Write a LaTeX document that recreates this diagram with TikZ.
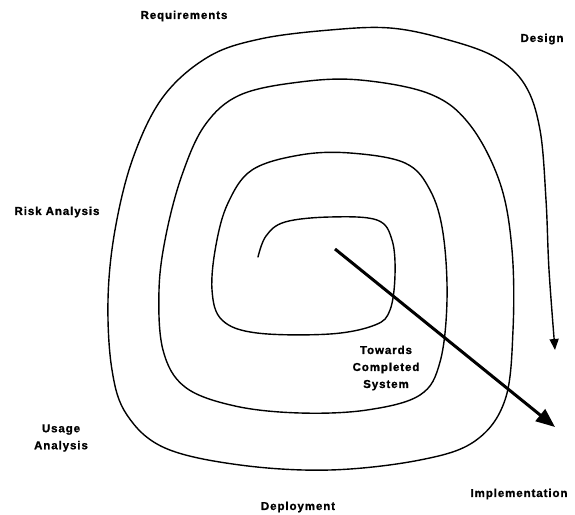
\documentclass[tikz,border=0pt]{standalone}
\usepackage{fontspec}
\setmainfont{Liberation Sans}
\usetikzlibrary{arrows.meta}

\tikzset{
  phase/.style={font=\fontsize{11.5bp}{17bp}\selectfont\bfseries\addfontfeatures{LetterSpace=8,FakeBold=1.2},align=center,inner sep=0pt},
  spiral/.style={line width=1.4bp,line cap=round,-{Triangle[length=11bp,width=9bp]}},
  progress/.style={line width=3bp,-{Triangle[length=19bp,width=15bp]}}
}

\begin{document}
\begin{tikzpicture}[x=1bp,y=-1bp]
	\useasboundingbox (0,0) rectangle (575,515);

	% the spiral, from the centre outwards
	\draw[spiral] plot[smooth,tension=0.6] coordinates {
		(258,257) (266,236) (285,222) (330,217) (377,220) (392,240) (395,275)
		(390,310) (375,325) (330,334) (257,333) (222,320) (212,290) (216,245)
		(228,203) (252,170) (300,155) (350,153) (405,163) (430,190)
		(443,233) (447,300) (440,362) (420,395) (367,410) (300,413) (235,406)
		(185,387) (163,350) (159,290) (166,235) (182,175) (205,125) (240,95)
		(300,82) (360,80) (430,94) (470,125) (500,183) (512,250) (513,330)
		(505,400) (475,441) (420,460) (330,470) (240,465) (165,448) (127,415)
		(112,370) (108,300) (115,230) (133,158) (163,97) (208,57) (260,39)
		(330,30) (390,28) (445,39) (495,57) (525,85) (540,130) (546,200)
		(549,270) (555,350)};

	\coordinate (centre) at (335,249);
	\coordinate (done) at (555,427);
	\draw[progress] (centre) -- (done);

	\node[phase] (req) at (184,16) {Requirements};
	\node[phase] (des) at (542,39) {Design};
	\node[phase] (risk) at (57,212) {Risk Analysis};
	\node[phase] (usage) at (61,438) {Usage\\Analysis};
	\node[phase] (towards) at (386,368) {Towards\\Completed\\System};
	\node[phase] (impl) at (519,494) {Implementation};
	\node[phase] (depl) at (298,507) {Deployment};

\end{tikzpicture}
\end{document}
